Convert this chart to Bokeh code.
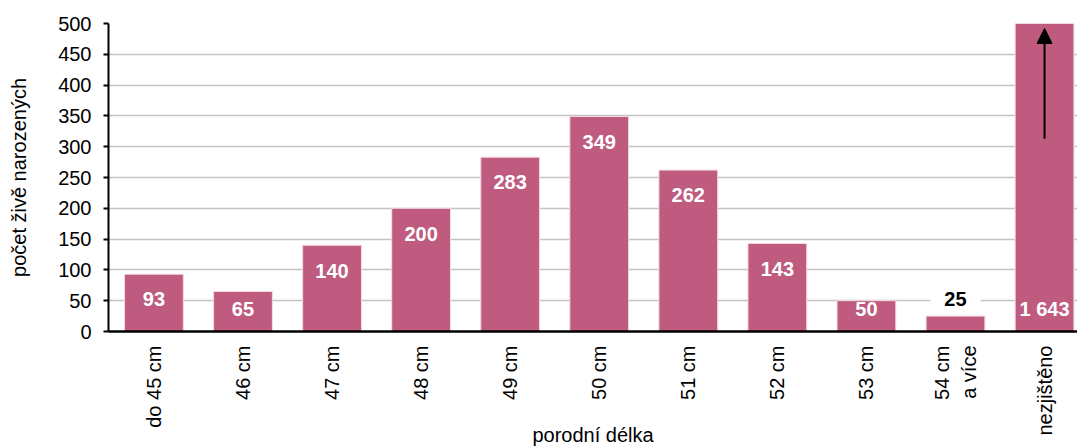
import numpy as np
from bokeh.plotting import figure
from bokeh.models import (ColumnDataSource, Range1d, FixedTicker, Arrow, NormalHead)
from bokeh.core.properties import value
from bokeh.embed import file_html
from bokeh.resources import INLINE

# ---- data ----
categories = ["do 45 cm", "46 cm", "47 cm", "48 cm", "49 cm", "50 cm",
              "51 cm", "52 cm", "53 cm", "54 cm\na více", "nezjištěno"]
counts = [93, 65, 140, 200, 283, 349, 262, 143, 50, 25, 1643]
y_ticks = [0, 50, 100, 150, 200, 250, 300, 350, 400, 450, 500]
y_max = 500
x_title = "porodní délka"
y_title = "počet živě narozených"

FONT = "Liberation Sans"
BAR = "#BE5B7F"

idx = np.arange(len(categories))
vals = np.array(counts)
labels = [f"{v:,}".replace(",", " ") for v in counts]

p = figure(width=1077, height=448, output_backend="svg", toolbar_location=None,
           x_range=Range1d(-0.51, 10.37), y_range=Range1d(0, y_max),
           min_border_left=108, min_border_top=23, min_border_bottom=117,
           min_border_right=0)
p.outline_line_color = None
p.background_fill_color = "white"

# grid
p.xgrid.grid_line_color = None
p.ygrid.ticker = FixedTicker(ticks=y_ticks)
p.ygrid.grid_line_color = "#C4C4C4"
p.ygrid.grid_line_width = 1.5

# bars
src = ColumnDataSource(dict(x=idx, top=vals))
p.vbar(x="x", top="top", width=0.66, source=src, fill_color=BAR,
       line_color="#F3DAE3", line_width=1)

# labels inside bars
inside = vals >= 40
in_y = np.where(vals > y_max, 37, np.maximum(vals - 41, 37))
src_in = ColumnDataSource(dict(x=idx[inside], y=in_y[inside],
                               t=[l for l, ok in zip(labels, inside) if ok]))
p.text(x="x", y="y", text="t", source=src_in, text_color="white",
       text_font=value(FONT), text_font_style="bold", text_font_size="20px",
       text_align="center", text_baseline="middle")

# labels above small bars
out = ~inside
src_out = ColumnDataSource(dict(x=idx[out], y=vals[out] + 27,
                                t=[l for l, ok in zip(labels, out) if ok]))
p.text(x="x", y="y", text="t", source=src_out, text_color="black",
       text_font=value(FONT), text_font_style="bold", text_font_size="20px",
       text_align="center", text_baseline="middle",
       background_fill_color="white", padding=[14, 2])

# arrow on the clipped bar
clipped = idx[vals > y_max]
for c in clipped:
    p.add_layout(Arrow(end=NormalHead(size=15, fill_color="black", line_color="black"),
                       x_start=c, y_start=313, x_end=c, y_end=492,
                       line_color="black", line_width=2))

# axes
ya = p.yaxis[0]
ya.ticker = FixedTicker(ticks=y_ticks)
ya.axis_line_color = "black"
ya.axis_line_width = 2
ya.major_tick_line_color = "black"
ya.major_tick_line_width = 2
ya.major_tick_out = 5
ya.major_tick_in = 0
ya.minor_tick_line_color = None
ya.major_label_text_font = FONT
ya.major_label_text_font_size = "20px"
ya.major_label_text_color = "black"
ya.major_label_standoff = 12
ya.axis_label = y_title
ya.axis_label_text_font = FONT
ya.axis_label_text_font_size = "20px"
ya.axis_label_text_font_style = "normal"
ya.axis_label_text_color = "black"
ya.axis_label_standoff = 25

xa = p.xaxis[0]
xa.ticker = FixedTicker(ticks=list(idx))
xa.major_label_overrides = {int(i): c for i, c in zip(idx, categories)}
xa.major_label_orientation = np.pi / 2
xa.axis_line_color = "black"
xa.axis_line_width = 2.5
xa.major_tick_line_color = None
xa.minor_tick_line_color = None
xa.major_tick_out = 0
xa.major_tick_in = 0
xa.major_label_standoff = 14
xa.major_label_text_font = FONT
xa.major_label_text_font_size = "20px"
xa.major_label_text_color = "black"
xa.axis_label = x_title
xa.axis_label_text_font = FONT
xa.axis_label_text_font_size = "20px"
xa.axis_label_text_font_style = "normal"
xa.axis_label_text_color = "black"
xa.axis_label_standoff = -15

open("out.html", "w").write(file_html(p, INLINE))
